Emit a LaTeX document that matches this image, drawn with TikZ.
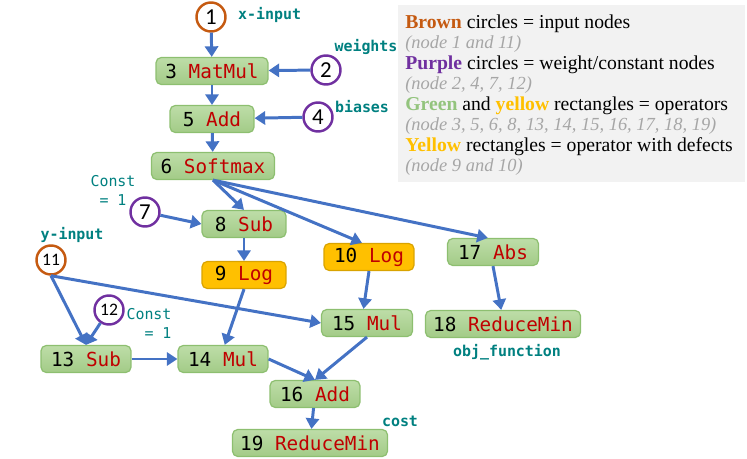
\documentclass[tikz,border=0pt]{standalone}
\usepackage{fontspec}
\setmainfont{Liberation Serif}
\setmonofont{DejaVu Sans Mono}
\newfontfamily\numfont{Carlito}
\usetikzlibrary{arrows.meta,positioning}

\definecolor{flowblue}{HTML}{4472C4}
\definecolor{optop}{HTML}{BEDDA8}
\definecolor{opbot}{HTML}{A2CB87}
\definecolor{opline}{HTML}{8DBF70}
\definecolor{defect}{HTML}{FFC000}
\definecolor{opred}{HTML}{C00000}
\definecolor{inbrown}{HTML}{C55A11}
\definecolor{wpurple}{HTML}{7030A0}
\definecolor{lblteal}{HTML}{008080}
\definecolor{legendbg}{HTML}{F2F2F2}
\definecolor{legendgray}{HTML}{A6A6A6}
\definecolor{legendgreen}{HTML}{93C47D}

\newcommand{\opname}[1]{\textcolor{opred}{#1}}
\newcommand{\legendnote}[1]{\textcolor{legendgray}{\itshape\fontsize{10.5}{11.7}\selectfont #1}}

\tikzset{
  opbox/.style={draw=opline, line width=0.7pt, rounded corners=3pt, top color=optop, bottom color=opbot,
    minimum height=0.54cm, inner sep=1pt, font=\ttfamily\fontsize{11}{13}\selectfont},
  defbox/.style={opbox, top color=defect, bottom color=defect, draw=defect!85!black},
  innode/.style={circle, draw=inbrown, line width=1.4pt, fill=white, minimum size=0.58cm, inner sep=0pt,
    font=\numfont\fontsize{13}{13}\selectfont},
  wnode/.style={innode, draw=wpurple},
  lbl/.style={text=lblteal, font=\ttfamily\bfseries\fontsize{8.5}{10}\selectfont},
  clbl/.style={text=lblteal, align=center, font=\ttfamily\fontsize{8.5}{10.8}\selectfont},
  flow/.style={->, draw=flowblue, line width=1.7pt}
}

\begin{document}
\begin{tikzpicture}[x=0.02cm, y=-0.02cm, >={Triangle[length=6pt,width=7.5pt]}]
  \useasboundingbox (0,0) rectangle (747,459);

  % legend
  \fill[legendbg] (398,5) rectangle (745,182);
  \node[anchor=north west, align=left, inner sep=0pt, font=\fontsize{11.2}{11.7}\selectfont] (legend) at (405,14)
    {\textbf{\textcolor{inbrown}{Brown}} circles = input nodes\\
     \legendnote{(node 1 and 11)}\\
     \textbf{\textcolor{wpurple}{Purple}} circles = weight/constant nodes\\
     \legendnote{(node 2, 4, 7, 12)}\\
     \textbf{\textcolor{legendgreen}{Green}} and \textbf{\textcolor{defect}{yellow}} rectangles = operators\\
     \legendnote{(node 3, 5, 6, 8, 13, 14, 15, 16, 17, 18, 19)}\\
     \textbf{\textcolor{defect}{Yellow}} rectangles = operator with defects\\
     \legendnote{(node 9 and 10)}};

  % operators
  \node[opbox, minimum width=2.24cm] (mm3) at (212,71) {3 \opname{MatMul}};
  \node[opbox, minimum width=1.68cm] (add5) at (212,119) {5 \opname{Add}};
  \node[opbox, minimum width=2.46cm] (sm6) at (213,166) {6 \opname{Softmax}};
  \node[opbox, minimum width=1.68cm] (sub8) at (244,224) {8 \opname{Sub}};
  \node[defbox, minimum width=1.68cm] (log9) at (244,275) {9 \opname{Log}};
  \node[defbox, minimum width=1.8cm] (log10) at (369,257) {10 \opname{Log}};
  \node[opbox, minimum width=1.82cm] (abs17) at (493,252) {17 \opname{Abs}};
  \node[opbox, minimum width=1.82cm] (mul15) at (367,323) {15 \opname{Mul}};
  \node[opbox, minimum width=3.1cm] (rmin18) at (503,324) {18 \opname{ReduceMin}};
  \node[opbox, minimum width=1.8cm] (sub13) at (86,359) {13 \opname{Sub}};
  \node[opbox, minimum width=1.8cm] (mul14) at (223,359) {14 \opname{Mul}};
  \node[opbox, minimum width=1.8cm] (add16) at (315,394) {16 \opname{Add}};
  \node[opbox, minimum width=3.1cm] (rmin19) at (310,443) {19 \opname{ReduceMin}};

  % inputs and constants
  \node[innode] (in1) at (211,17) {1};
  \node[wnode] (w2) at (326,70) {2};
  \node[wnode] (w4) at (318,117) {4};
  \node[wnode] (c7) at (145,212) {7};
  \node[innode, font=\numfont\fontsize{10}{10}\selectfont] (in11) at (51,260) {11};
  \node[wnode, font=\numfont\fontsize{10}{10}\selectfont] (c12) at (109,310) {12};

  % labels
  \node[lbl, anchor=west] (xlbl) at (232,15) {x-input};
  \node[lbl] (wlbl) at (366,47) {weights};
  \node[lbl] (blbl) at (362,107) {biases};
  \node[clbl] (c7lbl) at (113,190) {Const\\= 1};
  \node[lbl] (ylbl) at (72,235) {y-input};
  \node[clbl] (c12lbl) at (149,323) {Const\\~~= 1};
  \node[lbl] (objlbl) at (507,352) {obj\_function};
  \node[lbl] (costlbl) at (400,421) {cost};

  % edges
  \draw[flow] (in1) -- (mm3);
  \draw[flow] (w2) -- (mm3);
  \draw[flow] (mm3) -- (add5);
  \draw[flow] (w4) -- (add5);
  \draw[flow] (add5) -- (sm6);
  \draw[flow] (sm6.south) -- (sub8.north);
  \draw[flow] (sm6.south) -- ([xshift=-4]log10.north);
  \draw[flow] (sm6.south) -- ([xshift=-3]abs17.north);
  \draw[flow] (c7) -- (sub8.west);
  \draw[flow] (sub8) -- (log9);
  \draw[flow] (log9.south) -- ([xshift=1]mul14.north);
  \draw[flow] (log10.south) -- ([xshift=-2]mul15.north);
  \draw[flow] (in11.south) -- (sub13.north);
  \draw[flow] (in11.south) -- (mul15.west);
  \draw[flow] (c12) -- (sub13.north);
  \draw[flow] (sub13) -- (mul14);
  \draw[flow] (mul14.east) -- (add16.north);
  \draw[flow] (mul15.south) -- (add16.north);
  \draw[flow] (abs17.south) -- ([xshift=-1]rmin18.north);
  \draw[flow] (add16) -- (rmin19);
\end{tikzpicture}
\end{document}
